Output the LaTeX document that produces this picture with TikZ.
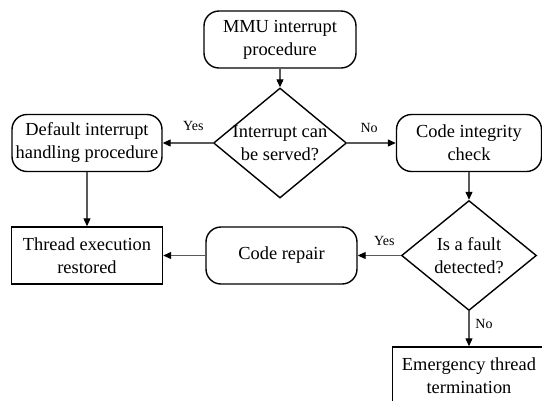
\documentclass[tikz,border=0pt]{standalone}
\usepackage{fontspec}
\setmainfont{Liberation Serif}
\usetikzlibrary{shapes.geometric,arrows.meta}
\begin{document}
\begin{tikzpicture}[x=1pt,y=-1pt,
  box/.style={draw=black,line width=1.4pt,inner sep=0pt,align=center,
    font=\fontsize{18.4}{23}\selectfont},
  roundbox/.style={box,rectangle,rounded corners=15pt},
  sqbox/.style={box,rectangle},
  decision/.style={draw=black,line width=1.4pt,diamond,inner sep=0pt},
  dtext/.style={align=center,font=\fontsize{18.4}{23}\selectfont},
  conn/.style={draw=black!65,line width=1.1pt,-{Triangle[length=8pt,width=7pt,color=black]}},
  lbl/.style={font=\fontsize{14}{16}\selectfont,inner sep=0pt}]
\useasboundingbox (0,0) rectangle (542,400);
\clip (0,0) rectangle (542,400);
\node[roundbox,minimum width=152pt,minimum height=57pt] (mmu) at (280,39.5) {MMU interrupt\\procedure};
\node[decision,minimum width=133pt,minimum height=110pt,
  label={[dtext]center:Interrupt can\\be served?}] (d1) at (280,143) {};
\node[roundbox,minimum width=150pt,minimum height=57pt] (def) at (87,143) {Default interrupt\\handling procedure};
\node[roundbox,minimum width=145pt,minimum height=57pt] (cic) at (469,143) {Code integrity\\check};
\node[sqbox,minimum width=151pt,minimum height=57pt] (thr) at (87,255.5) {Thread execution\\restored};
\node[roundbox,minimum width=151pt,minimum height=57pt] (rep) at (281.5,255.5) {Code repair};
\node[decision,minimum width=135pt,minimum height=110pt,
  label={[dtext]center:Is a fault\\detected?}] (d2) at (469,255.5) {};
\node[sqbox,minimum width=153pt,minimum height=57pt] (emg) at (469,375.5) {Emergency thread\\termination};

\draw[conn] (mmu.south) -- (d1.north);
\draw[conn] (d1.west) -- node[lbl,pos=0.39,yshift=17pt] {Yes} (def.east);
\draw[conn] (d1.east) -- node[lbl,pos=0.45,yshift=15pt] {No} (cic.west);
\draw[conn] (def.south) -- (thr.north);
\draw[conn] (cic.south) -- (d2.north);
\draw[conn] (d2.west) -- node[lbl,pos=0.38,yshift=14.5pt] {Yes} (rep.east);
\draw[conn] (rep.west) -- (thr.east);
\draw[conn] (d2.south) -- node[lbl,pos=0.37,xshift=15pt] {No} (emg.north);
\end{tikzpicture}
\end{document}
